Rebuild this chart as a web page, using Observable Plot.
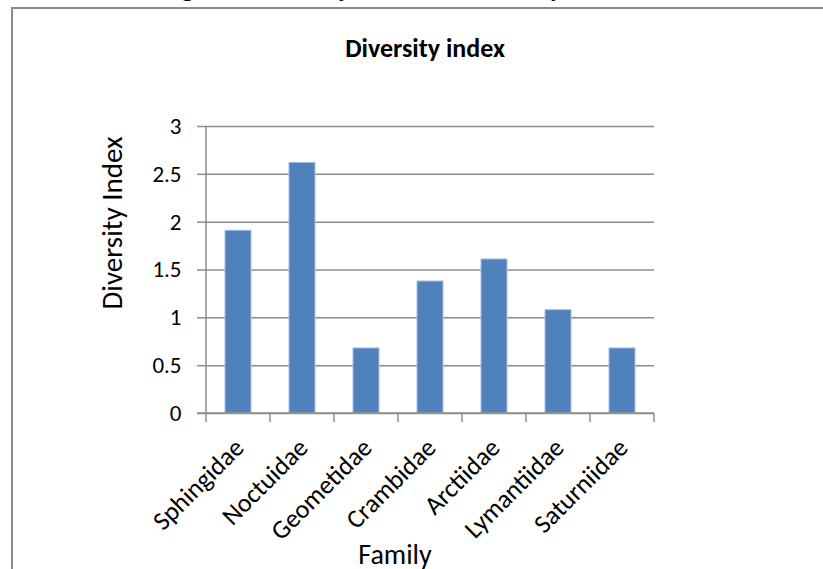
<!DOCTYPE html>
<html><head><meta charset="utf-8">
<script src="https://cdn.jsdelivr.net/npm/d3@7"></script>
<script src="https://cdn.jsdelivr.net/npm/@observablehq/plot@0.6"></script>
<style>
body{margin:0;background:#fff;}
#wrap{position:relative;width:823px;height:569px;overflow:hidden;background:#fff;}
#frame{position:absolute;left:11px;top:7px;width:900px;height:700px;border-left:2px solid #8a8a8a;border-top:2px solid #8a8a8a;}
#caption{position:absolute;left:0;width:823px;top:-23px;text-align:center;font:bold 24px "Liberation Serif","Times New Roman",serif;line-height:22px;color:#000;white-space:nowrap;}
#chart{position:absolute;left:0;top:0;}
</style></head><body>
<div id="wrap">
<div id="caption">Figure 3. Diversity index of each family of insects</div>
<div id="frame"></div>
<div id="chart"></div>
</div>
<script>
const families = ["Sphingidae","Noctuidae","Geometidae","Crambidae","Arctiidae","Lymantiidae","Saturniidae"];
const diversity = [1.91, 2.62, 0.68, 1.38, 1.61, 1.08, 0.68];
const yTicks = [0, 0.5, 1, 1.5, 2, 2.5, 3];
const chartTitle = "Diversity index";
const xLabel = "Family";
const yLabel = "Diversity Index";

const data = families.map((f, i) => ({family: f, value: diversity[i]}));

const FONT = "Carlito, Calibri, Lato, sans-serif";
const gray = "#8c8c8c";
const barFill = "#4f81bd";

const frameLines = (index, scales, values, dim) => {
  const g = d3.create("svg:g");
  const x0 = dim.marginLeft, x1 = dim.width - dim.marginRight;
  const yb = dim.height - dim.marginBottom, yt = dim.marginTop;
  const step = (x1 - x0) / families.length;
  g.append("line").attr("x1", x0).attr("x2", x0).attr("y1", yt).attr("y2", yb + 9)
    .attr("stroke", gray).attr("stroke-width", 1.5);
  g.append("line").attr("x1", x0 - 9).attr("x2", x1).attr("y1", yb).attr("y2", yb)
    .attr("stroke", gray).attr("stroke-width", 1.5);
  for (let i = 1; i <= families.length; i++) {
    const x = x0 + i * step;
    g.append("line").attr("x1", x).attr("x2", x).attr("y1", yb).attr("y2", yb + 9)
      .attr("stroke", gray).attr("stroke-width", 1.5);
  }
  return g.node();
};

const chart = Plot.plot({
  width: 823,
  height: 569,
  marginLeft: 206,
  marginRight: 169,
  marginTop: 126,
  marginBottom: 156,
  style: {fontFamily: FONT, background: "transparent", color: "#000"},
  x: {type: "band", domain: families, paddingInner: 0.6, paddingOuter: 0.3, align: 0.5, axis: null},
  y: {domain: [0, 3], axis: null},
  marks: [
    Plot.gridY(yTicks, {stroke: gray, strokeOpacity: 1, strokeWidth: 1.5}),
    Plot.axisY(yTicks, {tickSize: 9, tickPadding: 16, stroke: gray, strokeWidth: 1.5, strokeOpacity: 1,
      fontSize: 23, label: null, tickFormat: d => String(d), fill: "#000"}),
    Plot.barY(data, {x: "family", y: "value", fill: barFill, stroke: "#a7bfdf", strokeWidth: 1}),
    frameLines,
    Plot.text(data, {x: "family", frameAnchor: "bottom", text: "family", rotate: -45,
      textAnchor: "end", lineAnchor: "middle", dy: 30, dx: 1, fontSize: 26, fill: "#000"})
  ]
});

const svg = d3.select(chart);
svg.append("text").attr("x", 425).attr("y", 57).attr("text-anchor", "middle")
  .attr("font-size", 26).attr("font-weight", "bold").attr("font-family", FONT).attr("fill", "#000")
  .text(chartTitle);
svg.append("text").attr("transform", "translate(122,223) rotate(-90)").attr("text-anchor", "middle")
  .attr("font-size", 29).attr("font-family", FONT).attr("fill", "#000").text(yLabel);
svg.append("text").attr("x", 395).attr("y", 564).attr("text-anchor", "middle")
  .attr("font-size", 28).attr("font-family", FONT).attr("fill", "#000").text(xLabel);

document.getElementById("chart").appendChild(chart);
</script>
</body></html>
